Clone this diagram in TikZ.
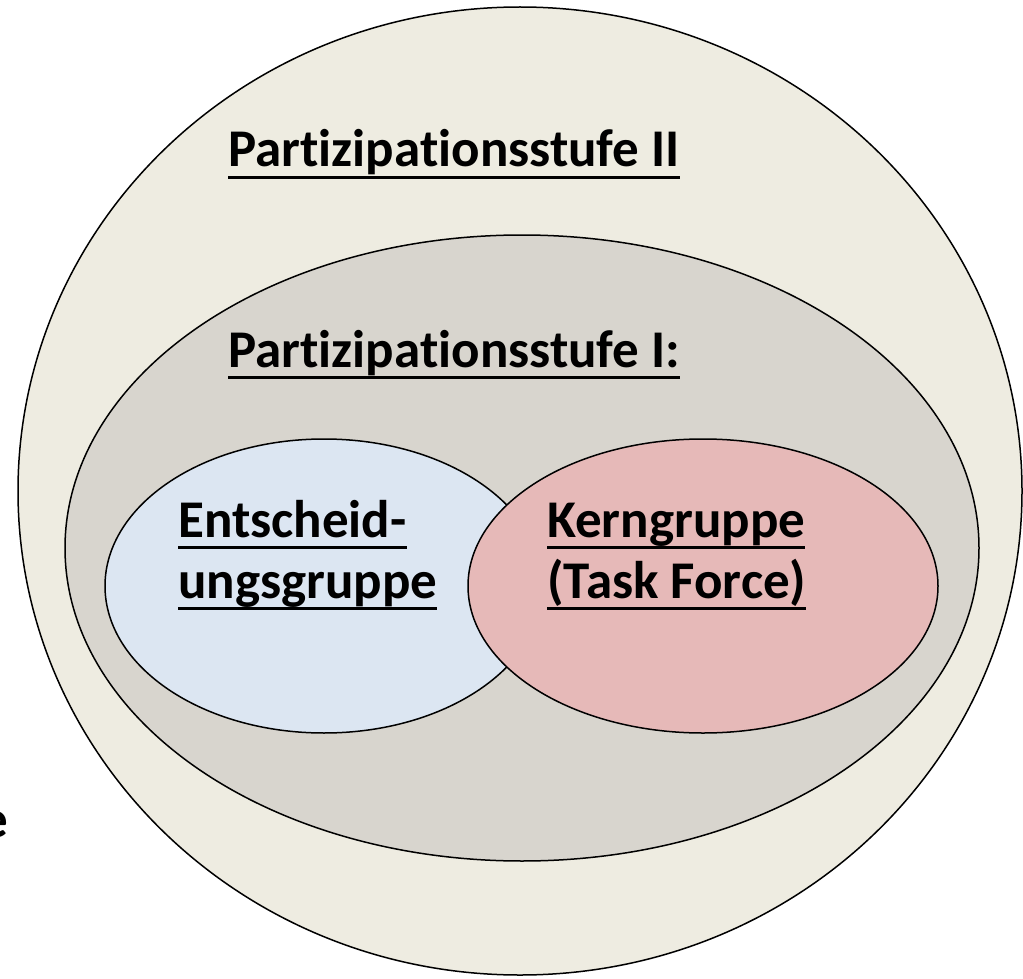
\documentclass[tikz,border=0pt]{standalone}
\usepackage{fontspec}
\setmainfont{Carlito}[Ligatures=NoCommon]
\usepackage{xcolor}
\usepackage{tikz}
\usetikzlibrary{positioning}

\definecolor{stufeII}{RGB}{238,236,225}
\definecolor{stufeI}{RGB}{216,213,206}
\definecolor{entscheid}{RGB}{220,230,242}
\definecolor{kern}{RGB}{230,185,184}

% underline at a fixed depth, as in the slide
\newcommand{\ulword}[1]{\setbox0\hbox{#1}\rlap{\rule[-12pt]{\wd0}{3pt}}\box0}

\tikzset{
  label text/.style={font=\fontsize{53}{61}\selectfont\bfseries, inner sep=0pt, align=left},
  group/.style={draw=black, line width=1.5pt}
}

\begin{document}
\begin{tikzpicture}[x=1pt, y=-1pt]
\useasboundingbox (0,0) rectangle (1023,979);
\filldraw[group, fill=stufeII] (520,491) ellipse [x radius=502, y radius=484];
\filldraw[group, fill=stufeI] (522,548) ellipse [x radius=457, y radius=313];
\filldraw[group, fill=entscheid] (324,586) ellipse [x radius=219, y radius=147];
\filldraw[group, fill=kern] (703,586) ellipse [x radius=235, y radius=147];

\node[label text, anchor=base west] (stufeIIlabel) at (228,167) {\ulword{Partizipationsstufe II}};
\node[label text, anchor=base west] (stufeIlabel) at (228,367) {\ulword{Partizipationsstufe I:}};
\node[label text, anchor=base west] (entscheidlabel) at (178,598) {\ulword{Entscheid-}\\\ulword{ungsgruppe}};
\node[label text, anchor=base west] (kernlabel) at (547,598) {\ulword{Kerngruppe}\\\ulword{(Task Force)}};
\node[label text, anchor=base east] (cutlabel) at (8,837) {e};
\end{tikzpicture}
\end{document}
